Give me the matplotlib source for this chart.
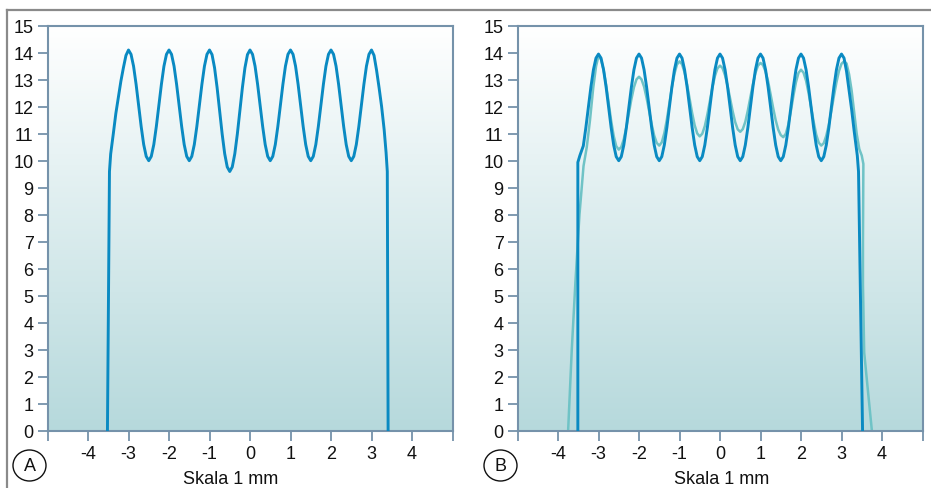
import numpy as np
import matplotlib

matplotlib.use("agg")

import matplotlib.pyplot as plt
from matplotlib import font_manager
from matplotlib.colors import LinearSegmentedColormap
from matplotlib.patches import Ellipse
from matplotlib.lines import Line2D

# ---- data (x in mm, y in profile units) ----
# sample positions of the periodic middle part, every 1/16 mm from -3 to 3
grid_x = np.arange(-3.0, 3.0 + 1e-9, 1 / 16)

# panel A, single profile
a_left_x = [-3.52, -3.47, -3.44, -3.375, -3.3125, -3.25, -3.1875, -3.125, -3.0625]
a_left_y = [0.0, 9.6, 10.25, 11.0, 11.75, 12.35, 12.95, 13.45, 13.9]
a_mid_y = [
    14.1, 13.94, 13.50, 12.83, 12.05, 11.27, 10.60, 10.16, 10.0, 10.16, 10.60, 11.27, 12.05, 12.83, 13.50, 13.94,
    14.1, 13.94, 13.50, 12.83, 12.05, 11.27, 10.60, 10.16, 10.0, 10.16, 10.60, 11.27, 12.05, 12.83, 13.50, 13.94,
    14.1, 13.93, 13.44, 12.71, 11.85, 10.99, 10.26, 9.77, 9.6, 9.77, 10.26, 10.99, 11.85, 12.71, 13.44, 13.93,
    14.1, 13.94, 13.50, 12.83, 12.05, 11.27, 10.60, 10.16, 10.0, 10.16, 10.60, 11.27, 12.05, 12.83, 13.50, 13.94,
    14.1, 13.94, 13.50, 12.83, 12.05, 11.27, 10.60, 10.16, 10.0, 10.16, 10.60, 11.27, 12.05, 12.83, 13.50, 13.94,
    14.1, 13.94, 13.50, 12.83, 12.05, 11.27, 10.60, 10.16, 10.0, 10.16, 10.60, 11.27, 12.05, 12.83, 13.50, 13.94,
    14.1,
]
a_right_x = [3.0625, 3.125, 3.1875, 3.25, 3.3125, 3.36, 3.39, 3.41]
a_right_y = [13.9, 13.35, 12.7, 12.0, 11.15, 10.3, 9.6, 0.0]

# panel B, dark profile
b_left_x = [-3.51, -3.51, -3.46, -3.375, -3.3125, -3.25, -3.1875, -3.125, -3.0625]
b_left_y = [0.0, 9.94, 10.19, 10.55, 11.22, 11.98, 12.73, 13.37, 13.80]
b_mid_y = [
    13.95, 13.80, 13.37, 12.73, 11.98, 11.22, 10.58, 10.15, 10.0, 10.15, 10.58, 11.22, 11.98, 12.73, 13.37, 13.80,
    13.95, 13.80, 13.37, 12.73, 11.98, 11.22, 10.58, 10.15, 10.0, 10.15, 10.58, 11.22, 11.98, 12.73, 13.37, 13.80,
    13.95, 13.80, 13.37, 12.73, 11.98, 11.22, 10.58, 10.15, 10.0, 10.15, 10.58, 11.22, 11.98, 12.73, 13.37, 13.80,
    13.95, 13.80, 13.37, 12.73, 11.98, 11.22, 10.58, 10.15, 10.0, 10.15, 10.58, 11.22, 11.98, 12.73, 13.37, 13.80,
    13.95, 13.80, 13.37, 12.73, 11.98, 11.22, 10.58, 10.15, 10.0, 10.15, 10.58, 11.22, 11.98, 12.73, 13.37, 13.80,
    13.95, 13.80, 13.37, 12.73, 11.98, 11.22, 10.58, 10.15, 10.0, 10.15, 10.58, 11.22, 11.98, 12.73, 13.37, 13.80,
    13.95,
]
b_right_x = [3.0625, 3.125, 3.1875, 3.25, 3.3125, 3.39, 3.42, 3.52]
b_right_y = [13.80, 13.3, 12.6, 11.9, 11.1, 10.19, 9.6, 0.0]

# panel B, light profile
c_left_x = [-3.75, -3.66, -3.57, -3.47, -3.37, -3.29, -3.21, -3.13, -3.06]
c_left_y = [0.0, 3.0, 5.5, 8.0, 9.8, 10.5, 11.5, 12.7, 13.5]
c_mid_y = [
    13.88, 13.75, 13.37, 12.81, 12.15, 11.48, 10.92, 10.54, 10.41, 10.51, 10.80, 11.24, 11.76, 12.28, 12.72, 13.01,
    13.11, 13.01, 12.74, 12.32, 11.84, 11.35, 10.93, 10.66, 10.56, 10.68, 11.02, 11.52, 12.12, 12.72, 13.22, 13.56,
    13.68, 13.57, 13.27, 12.82, 12.29, 11.76, 11.31, 11.01, 10.90, 11.00, 11.28, 11.71, 12.21, 12.71, 13.14, 13.42,
    13.52, 13.43, 13.16, 12.77, 12.30, 11.83, 11.43, 11.16, 11.07, 11.17, 11.44, 11.86, 12.35, 12.83, 13.25, 13.52,
    13.62, 13.54, 13.30, 12.94, 12.45, 11.95, 11.50, 11.15, 10.95, 10.87, 11.00, 11.34, 11.84, 12.40, 12.90, 13.25,
    13.37, 13.26, 12.96, 12.50, 11.97, 11.44, 10.97, 10.67, 10.56, 10.65, 10.93, 11.34, 11.85, 12.39, 12.90, 13.32,
    13.59,
]
c_right_x = [3.0625, 3.125, 3.1875, 3.25, 3.3125, 3.375, 3.44, 3.50, 3.54, 3.53, 3.53, 3.56, 3.64, 3.75]
c_right_y = [13.68, 13.6, 13.2, 12.6, 11.8, 11.0, 10.43, 10.19, 9.88, 7.0, 5.4, 2.9, 1.67, 0.0]

x_ticks = list(range(-5, 6))
x_tick_labels = ["" if abs(t) == 5 else str(t) for t in x_ticks]
y_ticks = list(range(0, 16))
panel_letters = ["A", "B"]
x_label = "Skala 1 mm"

# ---- style ----
names = {f.name for f in font_manager.fontManager.ttflist}
if "Liberation Sans Narrow" in names:
    family, fs = "Liberation Sans Narrow", 14.5
else:
    family, fs = "Liberation Sans", 13
plt.rcParams["font.family"] = [family, "DejaVu Sans"]
plt.rcParams["axes.unicode_minus"] = False

DARK = "#0a8ac2"
LIGHT = "#6fc3c6"
SPINE = "#7592aa"
W, H = 931, 489

bg = LinearSegmentedColormap.from_list("bg", ["#b6d9dc", "#ffffff"])


def profile(left_x, left_y, mid_y, right_x, right_y):
    xs = np.concatenate([left_x, grid_x, right_x])
    ys = np.concatenate([left_y, mid_y, right_y])
    return xs, ys


def setup(ax):
    ax.set_xlim(-5, 5)
    ax.set_ylim(0, 15)
    ax.imshow(np.linspace(0, 1, 256).reshape(-1, 1), cmap=bg, origin="lower",
              extent=(-5, 5, 0, 15), aspect="auto", zorder=0)
    ax.set_xticks(x_ticks)
    ax.set_xticklabels(x_tick_labels)
    ax.set_yticks(y_ticks)
    ax.tick_params(direction="out", length=7, width=1.3, color=SPINE,
                   labelsize=fs, labelcolor="#111111")
    ax.tick_params(axis="y", pad=3)
    ax.tick_params(axis="x", pad=3)
    for s in ax.spines.values():
        s.set_color(SPINE)
        s.set_linewidth(1.5)


fig = plt.figure(figsize=(W / 100, H / 100), dpi=100)
bottom = (H - 431.7) / H
height = 405 / H
ax_a = fig.add_axes([47.5 / W, bottom, 405 / W, height])
ax_b = fig.add_axes([517.5 / W, bottom, 405 / W, height])
setup(ax_a)
setup(ax_b)

xa, ya = profile(a_left_x, a_left_y, a_mid_y, a_right_x, a_right_y)
ax_a.plot(xa, ya, color=DARK, lw=2.1, zorder=3, solid_joinstyle="round")

xc, yc = profile(c_left_x, c_left_y, c_mid_y, c_right_x, c_right_y)
ax_b.plot(xc, yc, color=LIGHT, lw=1.8, zorder=2, solid_joinstyle="round")
xb, yb = profile(b_left_x, b_left_y, b_mid_y, b_right_x, b_right_y)
ax_b.plot(xb, yb, color=DARK, lw=2.1, zorder=3, solid_joinstyle="round")

# axis titles and panel letters
for cx, lx, letter in [(231, 29.5, panel_letters[0]), (722, 500.5, panel_letters[1])]:
    fig.text(cx / W, 1 - 484 / H, x_label, ha="center", va="baseline",
             fontsize=fs, color="#111111")
    fig.patches.append(Ellipse((lx / W, 1 - 466.5 / H), 33 / W, 31 / H,
                               transform=fig.transFigure, fill=False,
                               edgecolor="#111111", lw=1.0))
    fig.text(lx / W, 1 - 466.5 / H, letter, ha="center", va="center",
             fontsize=fs, color="#111111")

# outer frame (top and left edges visible)
fig.lines.append(Line2D([7 / W, 1], [1 - 11 / H, 1 - 11 / H], transform=fig.transFigure,
                        color="#8a8a8a", lw=1.6))
fig.lines.append(Line2D([7 / W, 7 / W], [0, 1 - 11 / H], transform=fig.transFigure,
                        color="#8a8a8a", lw=1.6))

fig.savefig("out.png", dpi=100)
